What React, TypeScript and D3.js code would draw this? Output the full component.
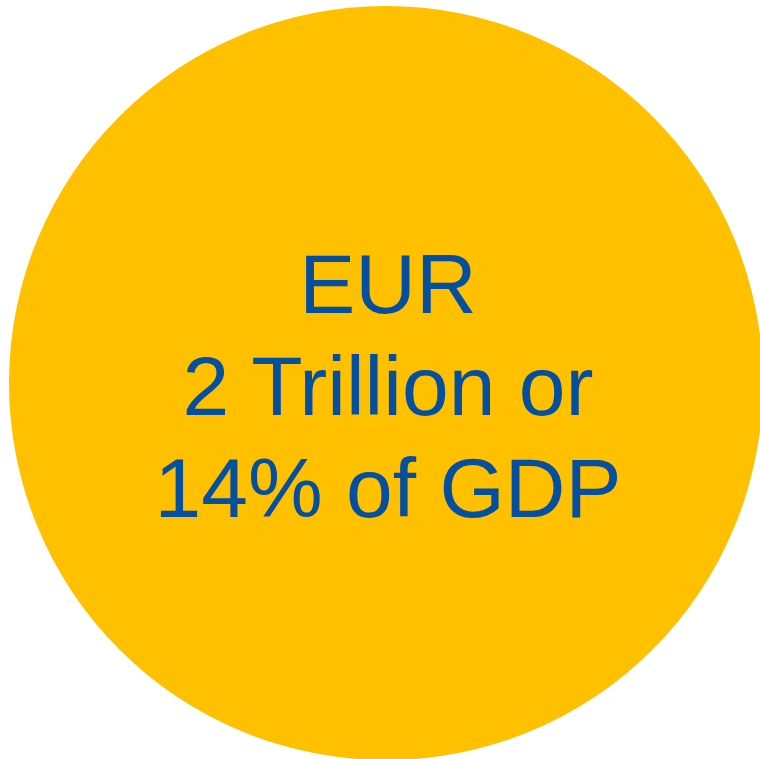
import { useMemo } from "react";
import { arc, pie } from "d3";

const W = 760;
const H = 759;

// one full-circle "slice" for the headline figure
const labels = ["EUR", "2 Trillion or", "14% of GDP"];
const values = [1];

const CX = 386;
const CY = 383;
const R = 377;
const FONT = 84;
const LINE = 102;
const FIRST_BASELINE = 313;

export default function App() {
  const slices = useMemo(() => pie<number>().sort(null)(values), []);
  const shape = useMemo(() => arc<any>().innerRadius(0).outerRadius(R), []);

  return (
    <svg
      width={W}
      height={H}
      viewBox={`0 0 ${W} ${H}`}
      style={{ position: "absolute", left: 0, top: 0, background: "#fff" }}
    >
      <g transform={`translate(${CX},${CY})`}>
        {slices.map((s, i) => (
          <path key={i} d={shape(s) ?? undefined} fill="#FFC000" />
        ))}
      </g>
      {labels.map((t, i) => (
        <text
          key={t}
          x={388}
          y={FIRST_BASELINE + i * LINE}
          textAnchor="middle"
          fontFamily="'Liberation Sans', Arial, sans-serif"
          fontSize={FONT}
          fill="#054FA0"
        >
          {t}
        </text>
      ))}
    </svg>
  );
}
